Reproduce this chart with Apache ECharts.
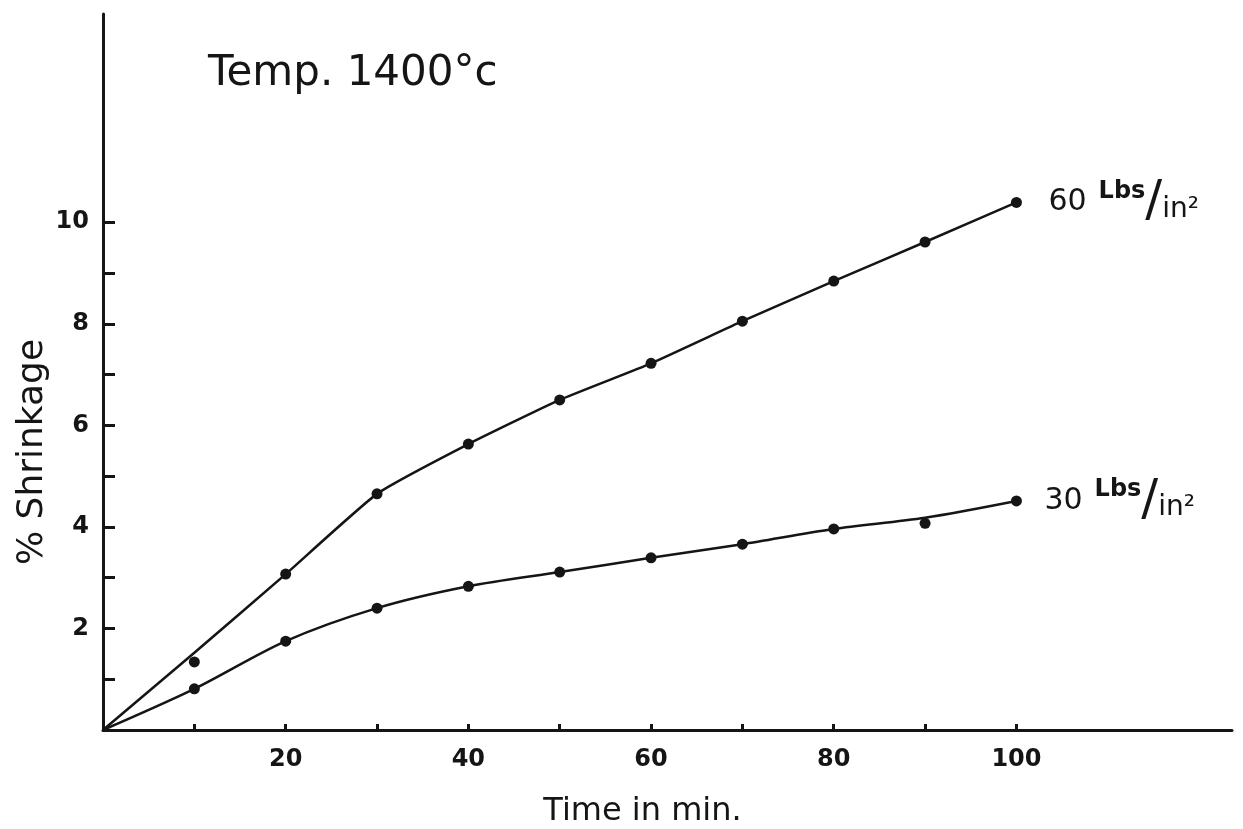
<!DOCTYPE html>
<html>
<head>
<meta charset="utf-8">
<script src="https://cdn.jsdelivr.net/npm/echarts@6/dist/echarts.min.js"></script>
<style>
  html, body { margin: 0; padding: 0; background: #fff; }
  #chart { width: 1243px; height: 829px; }
</style>
</head>
<body>
<div id="chart"></div>
<script>
// time in minutes
const times = [0, 10, 20, 30, 40, 50, 60, 70, 80, 90, 100];

// measured points (dots)
const pts60 = [null, 1.34, 3.07, 4.65, 5.63, 6.5, 7.22, 8.05, 8.84, 9.61, 10.39];
const pts30 = [null, 0.81, 1.75, 2.40, 2.83, 3.11, 3.39, 3.66, 3.96, 4.07, 4.51];

// hand-drawn curves, read at the same times
const curve60 = [0, 1.52, 3.07, 4.65, 5.63, 6.5, 7.22, 8.05, 8.84, 9.61, 10.39];
const curve30 = [0, 0.81, 1.75, 2.40, 2.83, 3.11, 3.39, 3.66, 3.96, 4.18, 4.51];

const xTicks = [10, 20, 30, 40, 50, 60, 70, 80, 90, 100];
const xLabels = [20, 40, 60, 80, 100];
const yTicks = [1, 2, 3, 4, 5, 6, 7, 8, 9, 10];
const yLabels = [2, 4, 6, 8, 10];

const ink = '#151515';
const font = 'DejaVu Sans';

const pair = (ys) => times.map((t, i) => [t, ys[i]]);

const chart = echarts.init(document.getElementById('chart'));

const unitRich = {
  n: { fontSize: 30, fontFamily: font, color: ink, padding: [0, 12, 0, 0] },
  s: { fontSize: 24, fontFamily: font, fontWeight: 'bold', color: ink, padding: [0, 0, 22, 0] },
  d: { fontSize: 50, fontFamily: font, color: ink },
  i: { fontSize: 28, fontFamily: font, color: ink, padding: [14, 0, 0, 0] }
};

chart.setOption({
  animation: false,
  backgroundColor: '#fff',
  title: {
    text: 'Temp. 1400°c',
    left: 203,
    top: 48,
    textStyle: { fontFamily: font, fontSize: 42, fontWeight: 'normal', color: ink }
  },
  graphic: [{
    type: 'text',
    x: 33,
    y: 452,
    rotation: Math.PI / 2,
    style: {
      text: '% Shrinkage',
      fontFamily: font,
      fontSize: 36,
      fill: ink,
      align: 'center',
      verticalAlign: 'middle'
    }
  }],
  grid: { left: 103, right: 11, top: 14, bottom: 99, containLabel: false, outerBoundsMode: 'none' },
  xAxis: {
    type: 'value',
    min: 0,
    max: 123.6,
    name: 'Time in min.',
    nameLocation: 'middle',
    nameGap: 66,
    nameTextStyle: { fontFamily: font, fontSize: 32, color: ink, padding: [0, 50, 0, 0] },
    axisLine: { show: true, lineStyle: { color: ink, width: 3 } },
    axisTick: { show: true, inside: true, length: 6, customValues: xTicks, lineStyle: { color: ink, width: 3 } },
    axisLabel: {
      customValues: xLabels,
      margin: 18,
      fontFamily: font, fontSize: 24, fontWeight: 'bold', color: ink
    },
    splitLine: { show: false }
  },
  yAxis: {
    type: 'value',
    min: 0,
    max: 14.1,
    axisLine: { show: true, lineStyle: { color: ink, width: 3 } },
    axisTick: { show: true, inside: true, length: 12, customValues: yTicks, lineStyle: { color: ink, width: 3 } },
    axisLabel: {
      customValues: yLabels,
      margin: 14,
      fontFamily: font, fontSize: 24, fontWeight: 'bold', color: ink
    },
    splitLine: { show: false }
  },
  series: [
    {
      name: '60 curve',
      type: 'line',
      data: pair(curve60),
      smooth: 0.15,
      showSymbol: false,
      lineStyle: { color: ink, width: 2.5 },
      endLabel: {
        show: true,
        distance: 32,
        formatter: '{n|60}{s|Lbs}{d|/}{i|in²}',
        rich: unitRich
      }
    },
    {
      name: '30 curve',
      type: 'line',
      data: pair(curve30),
      smooth: 0.3,
      showSymbol: false,
      lineStyle: { color: ink, width: 2.5 },
      endLabel: {
        show: true,
        distance: 28,
        formatter: '{n|30}{s|Lbs}{d|/}{i|in²}',
        rich: unitRich
      }
    },
    {
      name: '60 pts',
      type: 'scatter',
      data: pair(pts60).filter((p) => p[1] !== null),
      symbol: 'circle',
      symbolSize: 11,
      itemStyle: { color: ink, opacity: 1 }
    },
    {
      name: '30 pts',
      type: 'scatter',
      data: pair(pts30).filter((p) => p[1] !== null),
      symbol: 'circle',
      symbolSize: 11,
      itemStyle: { color: ink, opacity: 1 }
    }
  ]
});
</script>
</body>
</html>
